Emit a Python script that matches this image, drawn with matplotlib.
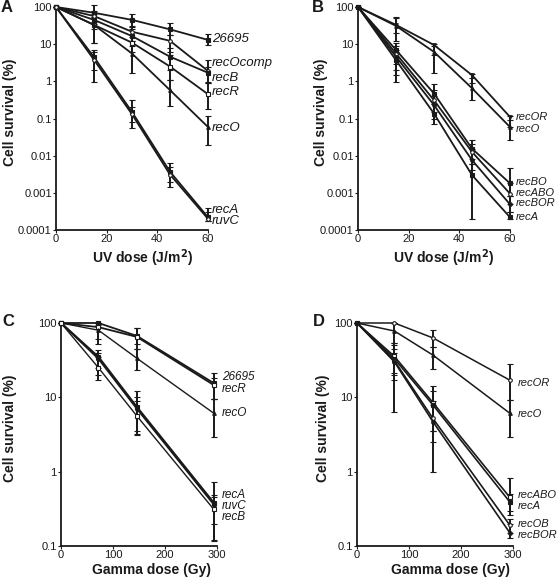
import matplotlib
matplotlib.use("Agg")
import matplotlib.pyplot as plt
from matplotlib.ticker import FixedLocator, FixedFormatter, NullLocator

plt.rcParams['font.family'] = ['Liberation Sans', 'DejaVu Sans']

# ---------------- data ----------------
uv_dose = [0, 15, 30, 45, 60]
gamma_dose = [0, 72, 146, 294]

uv_yticks = [100, 10, 1, 0.1, 0.01, 0.001, 0.0001]
uv_yticklabels = ["100", "10", "1", "0.1", "0.01", "0.001", "0.0001"]
uv_xticks = [0, 20, 40, 60]
gamma_yticks = [100, 10, 1, 0.1]
gamma_yticklabels = ["100", "10", "1", "0.1"]
gamma_xticks = [0, 100, 200, 300]

# Panel A (UV)
a_wt = [100, 70, 45, 25, 13]
a_wt_lo = [100, 40, 29, 18, 9.6]
a_wt_hi = [100, 112, 65, 36, 19]
a_recOcomp = [100, 57, 21.6, 12.3, 1.9]
a_recOcomp_lo = [100, 35, 12, 6, 0.9]
a_recOcomp_hi = [100, 80, 30, 18, 3.8]
a_recB = [100, 45, 16.5, 4.6, 1.7]
a_recB_lo = [100, 25, 9, 2.0, 0.95]
a_recB_hi = [100, 65, 25, 8, 2.5]
a_recR = [100, 33, 11, 2.5, 0.45]
a_recR_lo = [100, 11, 6, 1.1, 0.18]
a_recR_hi = [100, 55, 16, 5, 0.9]
a_recO = [100, 33, 5.6, 0.58, 0.059]
a_recO_lo = [100, 11, 1.7, 0.22, 0.019]
a_recO_hi = [100, 55, 12, 1.1, 0.12]
a_recA = [100, 4.5, 0.15, 0.0037, 0.00022]
a_recA_lo = [100, 0.98, 0.055, 0.0014, 0.00018]
a_recA_hi = [100, 7, 0.32, 0.0063, 0.0004]
a_ruvC = [100, 3.8, 0.13, 0.0031, 0.0002]
a_ruvC_lo = [100, 2, 0.08, 0.002, 0.00018]
a_ruvC_hi = [100, 6, 0.2, 0.005, 0.0003]

# Panel B (UV)
b_recOR = [100, 33, 9.5, 1.47, 0.11]
b_recOR_lo = [100, 20, 5, 0.9, 0.06]
b_recOR_hi = [100, 55, 10, 1.55, 0.12]
b_recO = [100, 31, 6.2, 0.65, 0.059]
b_recO_lo = [100, 12, 1.7, 0.32, 0.027]
b_recO_hi = [100, 50, 9, 1.2, 0.09]
b_recBO = [100, 7, 0.47, 0.0155, 0.0018]
b_recBO_lo = [100, 3, 0.25, 0.008, 0.0008]
b_recBO_hi = [100, 10.5, 0.87, 0.026, 0.0046]
b_recABO = [100, 5.6, 0.31, 0.0126, 0.00095]
b_recABO_lo = [100, 2, 0.15, 0.006, 0.0005]
b_recABO_hi = [100, 9, 0.6, 0.02, 0.0018]
b_recBOR = [100, 4.6, 0.23, 0.0076, 0.00049]
b_recBOR_lo = [100, 1.5, 0.1, 0.004, 0.0003]
b_recBOR_hi = [100, 7, 0.4, 0.015, 0.0008]
b_recA = [100, 3.7, 0.136, 0.003, 0.00022]
b_recA_lo = [100, 0.98, 0.07, 0.0002, 0.0002]
b_recA_hi = [100, 6, 0.25, 0.0058, 0.0003]

# Panel C (gamma)
c_wt = [100, 100, 67, 15.5]
c_wt_lo = [100, 100, 52, 9.5]
c_wt_hi = [100, 100, 85, 21]
c_recR = [100, 88, 65, 14.6]
c_recR_lo = [100, 52, 45, 9.5]
c_recR_hi = [100, 100, 85, 18]
c_recO = [100, 80, 33.5, 6.1]
c_recO_lo = [100, 60, 23, 2.95]
c_recO_hi = [100, 95, 45, 9.5]
c_recA = [100, 35, 7.4, 0.38]
c_recA_lo = [100, 25, 3.5, 0.12]
c_recA_hi = [100, 43, 12, 0.73]
c_ruvC = [100, 33, 7.0, 0.36]
c_ruvC_lo = [100, 20, 3.1, 0.2]
c_ruvC_hi = [100, 40, 10, 0.49]
c_recB = [100, 25, 5.6, 0.31]
c_recB_lo = [100, 17, 3.2, 0.117]
c_recB_hi = [100, 35, 9, 0.45]

# Panel D (gamma)
d_recOR = [100, 100, 63, 17]
d_recOR_lo = [100, 100, 48, 9.1]
d_recOR_hi = [100, 100, 80, 28]
d_recO = [100, 78, 37, 6.1]
d_recO_lo = [100, 54, 24, 2.95]
d_recO_hi = [100, 100, 48, 9.1]
d_recABO = [100, 35.5, 8.5, 0.45]
d_recABO_lo = [100, 17, 3.5, 0.3]
d_recABO_hi = [100, 54, 14, 0.81]
d_recA = [100, 33, 7.9, 0.39]
d_recA_lo = [100, 21, 3.5, 0.26]
d_recA_hi = [100, 50, 12, 0.5]
d_recOB = [100, 31, 5.2, 0.19]
d_recOB_lo = [100, 6.4, 0.98, 0.15]
d_recOB_hi = [100, 45, 9, 0.23]
d_recBOR = [100, 30, 4.7, 0.15]
d_recBOR_lo = [100, 20, 2.5, 0.13]
d_recBOR_hi = [100, 40, 8, 0.2]

# (name, values, lower, upper, label_y, marker, filled, linewidth)
panel_a = [
    ("26695", a_wt, a_wt_lo, a_wt_hi, 13.7, 's', True, 1.3),
    ("recOcomp", a_recOcomp, a_recOcomp_lo, a_recOcomp_hi, 3.1, 'o', False, 1.3),
    ("recB", a_recB, a_recB_lo, a_recB_hi, 1.22, 's', True, 1.3),
    ("recR", a_recR, a_recR_lo, a_recR_hi, 0.51, 's', False, 1.3),
    ("recO", a_recO, a_recO_lo, a_recO_hi, 0.055, '^', True, 1.3),
    ("recA", a_recA, a_recA_lo, a_recA_hi, 0.00034, 's', True, 1.3),
    ("ruvC", a_ruvC, a_ruvC_lo, a_ruvC_hi, 0.00017, 'o', False, 1.3),
]
panel_b = [
    ("recOR", b_recOR, b_recOR_lo, b_recOR_hi, 0.108, 'v', True, 1.3),
    ("recO", b_recO, b_recO_lo, b_recO_hi, 0.051, '^', True, 1.3),
    ("recBO", b_recBO, b_recBO_lo, b_recBO_hi, 0.0019, 's', True, 1.3),
    ("recABO", b_recABO, b_recABO_lo, b_recABO_hi, 0.00097, 'o', False, 1.3),
    ("recBOR", b_recBOR, b_recBOR_lo, b_recBOR_hi, 0.00052, 'o', True, 1.3),
    ("recA", b_recA, b_recA_lo, b_recA_hi, 0.00023, 's', True, 1.3),
]
panel_c = [
    ("26695", c_wt, c_wt_lo, c_wt_hi, 19.0, 's', True, 1.3),
    ("recR", c_recR, c_recR_lo, c_recR_hi, 13.0, 's', False, 1.3),
    ("recO", c_recO, c_recO_lo, c_recO_hi, 6.1, '^', True, 1.0),
    ("recA", c_recA, c_recA_lo, c_recA_hi, 0.48, 's', True, 1.5),
    ("ruvC", c_ruvC, c_ruvC_lo, c_ruvC_hi, 0.34, 'o', True, 1.3),
    ("recB", c_recB, c_recB_lo, c_recB_hi, 0.242, 's', False, 1.0),
]
panel_d = [
    ("recOR", d_recOR, d_recOR_lo, d_recOR_hi, 15.4, 'o', False, 1.1),
    ("recO", d_recO, d_recO_lo, d_recO_hi, 6.0, '^', True, 1.1),
    ("recABO", d_recABO, d_recABO_lo, d_recABO_hi, 0.48, 's', False, 1.2),
    ("recA", d_recA, d_recA_lo, d_recA_hi, 0.34, 's', True, 1.2),
    ("recOB", d_recOB, d_recOB_lo, d_recOB_hi, 0.198, 'o', False, 1.2),
    ("recBOR", d_recBOR, d_recBOR_lo, d_recBOR_hi, 0.142, 'o', True, 1.2),
]

# ---------------- drawing ----------------
W, H = 558, 578
fig = plt.figure(figsize=(W / 100, H / 100), dpi=100)

def px_axes(x0, x1, ytop, ybot):
    return fig.add_axes([x0 / W, 1 - ybot / H, (x1 - x0) / W, (ybot - ytop) / H])

INK = '#1a1a1a'

def draw_panel(ax, dose, series, xticks, xmax, ymin, yticks, yticklabels,
               xlabel, label_fs, label_dx, ylab_x, xlab_pos):
    ax.set_yscale('log')
    ax.set_xlim(0, xmax)
    ax.set_ylim(ymin, 100)
    for name, vals, lo, hi, ly, mk, filled, lw in series:
        yerr = [[v - l for v, l in zip(vals, lo)], [h - v for v, h in zip(vals, hi)]]
        ax.errorbar(dose, vals, yerr=yerr, color=INK, lw=lw, elinewidth=1.4,
                    capsize=2.2, capthick=1.0, marker=mk, ms=2.6,
                    mfc=INK if filled else 'white', mec=INK, mew=0.8,
                    clip_on=False, zorder=3)
        ax.annotate(name, xy=(dose[-1], ly), xytext=(label_dx, 0),
                    textcoords='offset points', ha='left', va='center',
                    fontsize=label_fs, style='italic', color=INK,
                    annotation_clip=False)
    for s in ('top', 'right'):
        ax.spines[s].set_visible(False)
    for s in ('left', 'bottom'):
        ax.spines[s].set_linewidth(1.3)
        ax.spines[s].set_color(INK)
    ax.yaxis.set_major_locator(FixedLocator(yticks))
    ax.yaxis.set_major_formatter(FixedFormatter(yticklabels))
    ax.yaxis.set_minor_locator(NullLocator())
    ax.set_xticks(xticks)
    ax.set_xticklabels([str(t) for t in xticks])
    ax.tick_params(axis='both', length=2, width=0.8, labelsize=8, pad=1,
                   colors=INK)
    ax.set_ylabel("Cell survival (%)", fontsize=10, fontweight='bold', color=INK)
    ax.yaxis.set_label_coords(ylab_x, 0.53)
    ax.set_xlabel(xlabel, fontsize=10, fontweight='bold', color=INK, va='center')
    ax.xaxis.set_label_coords(xlab_pos[0], xlab_pos[1])
    return ax

uv_label = r"UV dose (J/m$^{\mathbf{2}}$)"
gamma_label = "Gamma dose (Gy)"

axA = px_axes(56, 208, 7, 230)
draw_panel(axA, uv_dose, panel_a, uv_xticks, 60, 0.0001, uv_yticks,
           uv_yticklabels, uv_label, 9.5, 3, -0.255, (0.57, -0.125))
axB = px_axes(358, 510, 7, 230)
draw_panel(axB, uv_dose, panel_b, uv_xticks, 60, 0.0001, uv_yticks,
           uv_yticklabels, uv_label, 8, 4, -0.20, (0.56, -0.125))
axC = px_axes(61, 217, 323, 546)
draw_panel(axC, gamma_dose, panel_c, gamma_xticks, 300, 0.1, gamma_yticks,
           gamma_yticklabels, gamma_label, 8.5, 6, -0.28, (0.58, -0.108))
axD = px_axes(357, 513, 323, 546)
draw_panel(axD, gamma_dose, panel_d, gamma_xticks, 300, 0.1, gamma_yticks,
           gamma_yticklabels, gamma_label, 8, 6, -0.17, (0.60, -0.108))

for letter, (px, py) in zip("ABCD", [(7, 8), (318, 8), (8, 322), (319, 322)]):
    fig.text(px / W, 1 - py / H, letter, fontsize=12, fontweight='bold',
             ha='center', va='center', color=INK)

fig.savefig("out.png", dpi=100)
